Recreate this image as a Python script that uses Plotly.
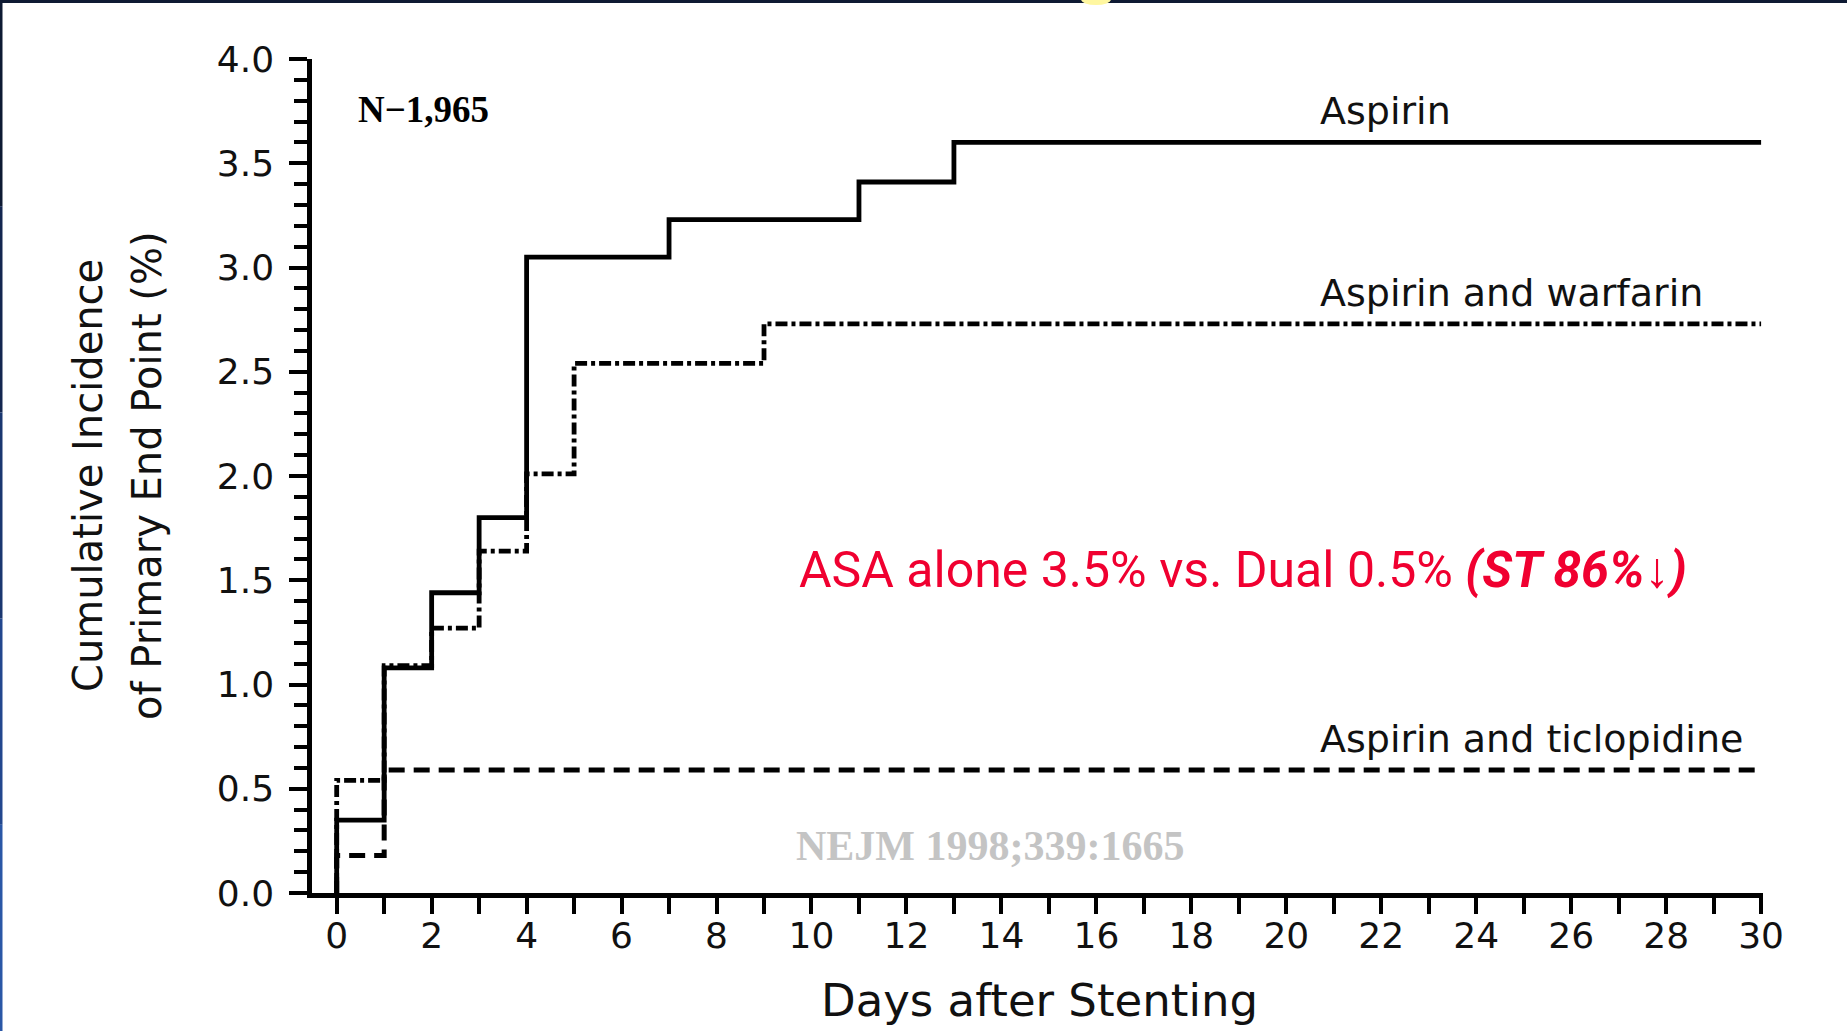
import plotly.graph_objects as go

# ---------------- data ----------------
aspirin_days = [0, 0, 1, 2, 3, 4, 7, 11, 13, 30]
aspirin_inc = [0, 0.35, 1.08, 1.44, 1.80, 3.05, 3.23, 3.41, 3.60, 3.60]

warfarin_days = [0, 0, 1, 2, 3, 4, 5, 9, 30]
warfarin_inc = [0, 0.54, 1.09, 1.27, 1.64, 2.01, 2.54, 2.73, 2.73]

ticlo_days = [0, 0, 1, 30]
ticlo_inc = [0, 0.18, 0.59, 0.59]

x_tickvals = list(range(0, 31, 2))
y_tickvals = [0.0, 0.5, 1.0, 1.5, 2.0, 2.5, 3.0, 3.5, 4.0]
y_ticktext = ["0.0", "0.5", "1.0", "1.5", "2.0", "2.5", "3.0", "3.5", "4.0"]

series_labels = ["Aspirin", "Aspirin and warfarin", "Aspirin and ticlopidine"]
label_y = [3.75, 2.88, 0.74]
label_x = 20.66

# ---------------- layout constants ----------------
W, H = 1847, 1031
ML, MR, MT, MB = 312, 84, 59, 138
PW, PH = W - ML - MR, H - MT - MB

def px_to_paper_x(px):
    return (px - ML) / PW

def px_to_paper_y(py):
    return (H - MB - py) / PH

SANS = "DejaVu Sans"
SERIF = "Liberation Serif"

fig = go.Figure()

fig.add_trace(go.Scatter(x=aspirin_days, y=aspirin_inc, mode="lines",
                         line=dict(color="black", width=4.8, shape="hv"),
                         name=series_labels[0], showlegend=False))
fig.add_trace(go.Scatter(x=warfarin_days, y=warfarin_inc, mode="lines",
                         line=dict(color="black", width=4.8, shape="hv",
                                   dash="12px,4px,4px,4px"),
                         name=series_labels[1], showlegend=False))
fig.add_trace(go.Scatter(x=ticlo_days, y=ticlo_inc, mode="lines",
                         line=dict(color="black", width=5, shape="hv",
                                   dash="16px,9px"),
                         name=series_labels[2], showlegend=False))

annotations = []
for lbl, ly in zip(series_labels, label_y):
    annotations.append(dict(x=label_x, y=ly, xref="x", yref="y", text=lbl,
                            showarrow=False, xanchor="left", yanchor="middle",
                            font=dict(family=SANS, size=38, color="#111111")))

annotations.append(dict(x=0.40, y=3.76, xref="x", yref="y", text="<b>N\u22121,965</b>",
                        showarrow=False, xanchor="left", yanchor="middle",
                        font=dict(family=SERIF, size=37, color="black")))
annotations.append(dict(x=9.64, y=0.226, xref="x", yref="y", text="<b>NEJM 1998;339:1665</b>",
                        showarrow=False, xanchor="left", yanchor="middle",
                        font=dict(family=SERIF, size=42, color="#c4c4c4")))
annotations.append(dict(x=9.69, y=1.55, xref="x", yref="y",
                        text="ASA alone 3.5% vs. Dual 0.5% <b><i>(ST 86%\u2193)</i></b>",
                        showarrow=False, xanchor="left", yanchor="middle",
                        font=dict(family="Roboto", size=50, color="#f00030")))

# axis titles
annotations.append(dict(x=px_to_paper_x(88), y=0.5, xref="paper", yref="paper",
                        text="Cumulative Incidence", textangle=-90, showarrow=False,
                        xanchor="center", yanchor="middle",
                        font=dict(family=SANS, size=40, color="#111111")))
annotations.append(dict(x=px_to_paper_x(147), y=0.5, xref="paper", yref="paper",
                        text="of Primary End Point (%)", textangle=-90, showarrow=False,
                        xanchor="center", yanchor="middle",
                        font=dict(family=SANS, size=40, color="#111111")))
annotations.append(dict(x=px_to_paper_x(1039), y=px_to_paper_y(1000), xref="paper", yref="paper",
                        text="Days after Stenting", showarrow=False,
                        xanchor="center", yanchor="middle",
                        font=dict(family=SANS, size=45, color="#111111")))

# frame decoration (slide border)
shapes = [
    dict(type="rect", xref="paper", yref="paper", layer="above",
         x0=px_to_paper_x(0), x1=px_to_paper_x(W), y0=px_to_paper_y(0), y1=px_to_paper_y(3),
         fillcolor="#0e1a33", line=dict(width=0)),
]
left_cols = ["#0e1a33", "#132650", "#1a3770", "#22478e", "#2a57a6"]
seg = H / len(left_cols)
for i, c in enumerate(left_cols):
    shapes.append(dict(type="rect", xref="paper", yref="paper", layer="above",
                       x0=px_to_paper_x(0), x1=px_to_paper_x(2.5),
                       y0=px_to_paper_y(i * seg), y1=px_to_paper_y((i + 1) * seg),
                       fillcolor=c, line=dict(width=0)))
shapes.append(dict(type="circle", xref="paper", yref="paper", layer="above",
                   x0=px_to_paper_x(1081), x1=px_to_paper_x(1111),
                   y0=px_to_paper_y(-6), y1=px_to_paper_y(5),
                   fillcolor="#fff7a0", line=dict(width=0)))

fig.update_layout(
    width=W, height=H,
    margin=dict(l=ML, r=MR, t=MT, b=MB, pad=0),
    paper_bgcolor="white", plot_bgcolor="white",
    showlegend=False,
    annotations=annotations,
    shapes=shapes,
    xaxis=dict(range=[-0.52, 30.04], showgrid=False, zeroline=False,
               showline=True, linecolor="black", linewidth=4.5,
               tickmode="array", tickvals=x_tickvals,
               ticks="outside", ticklen=16, tickwidth=4, tickcolor="black",
               minor=dict(dtick=1, tick0=0, ticks="outside", ticklen=16, tickwidth=4,
                          tickcolor="black", showgrid=False),
               tickfont=dict(family=SANS, size=36, color="#111111"),
               ticklabelstandoff=-9),
    yaxis=dict(range=[0, 4.0], showgrid=False, zeroline=False,
               showline=True, linecolor="black", linewidth=4.5,
               tickmode="array", tickvals=y_tickvals, ticktext=y_ticktext,
               ticks="outside", ticklen=18, tickwidth=4, tickcolor="black",
               minor=dict(dtick=0.1, tick0=0, ticks="outside", ticklen=13, tickwidth=4,
                          tickcolor="black", showgrid=False),
               tickfont=dict(family=SANS, size=36, color="#111111"),
               ticklabelstandoff=8),
)

fig.write_html("out.html", config={"displayModeBar": False},
               post_script="document.body.style.margin='0';")
